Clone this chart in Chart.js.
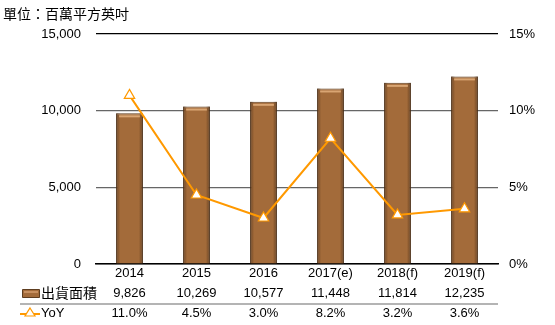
<!DOCTYPE html>
<html>
<head>
<meta charset="utf-8">
<script src="https://cdn.jsdelivr.net/npm/chart.js@4"></script>
<style>
  html, body { margin: 0; padding: 0; background: #fff; }
  #wrap { position: relative; width: 555px; height: 325px; }
</style>
</head>
<body>
<div id="wrap"><canvas id="chart" width="555" height="325"></canvas></div>
<script>
// chart data
const years = ['2014', '2015', '2016', '2017(e)', '2018(f)', '2019(f)'];
const shipments = [9826, 10269, 10577, 11448, 11814, 12235];
const yoy = [11.0, 4.5, 3.0, 8.2, 3.2, 3.6];
const unitLabel = '單位：百萬平方英吋';
const barLabel = '出貨面積';
const lineLabel = 'YoY';

const LATIN = '"Liberation Sans", Arial, sans-serif';
const CJK = '"Noto Sans CJK TC", "Noto Sans CJK SC", sans-serif';
const BAR = '#a36b3a';
const BAR_EDGE = '#5e3d1f';
const LINE = '#ff9900';

// title + data table under the plot
const tablePlugin = {
  id: 'table',
  afterDraw(chart) {
    const ctx = chart.ctx;
    const x = chart.scales.x;
    ctx.save();
    ctx.fillStyle = '#000';
    ctx.textBaseline = 'middle';
    ctx.textAlign = 'left';
    ctx.font = '14px ' + CJK;
    ctx.fillText(unitLabel, 3, 14);

    // row 1: bar legend + values
    const r1 = 293, r2 = 313;
    ctx.fillStyle = BAR;
    ctx.strokeStyle = BAR_EDGE;
    ctx.lineWidth = 1;
    ctx.beginPath();
    ctx.rect(22.5, 289.5, 17, 8);
    ctx.fill();
    ctx.stroke();
    ctx.fillStyle = '#c89060';
    ctx.fillRect(24, 291, 14, 2);

    ctx.fillStyle = '#000';
    ctx.font = '14px ' + CJK;
    ctx.fillText(barLabel, 41, r1);

    ctx.font = '13px ' + LATIN;
    ctx.textAlign = 'center';
    shipments.forEach((v, i) => {
      ctx.fillText(v.toLocaleString('en-US'), x.getPixelForValue(i), r1);
    });

    // separator
    ctx.strokeStyle = '#b4b4b4';
    ctx.lineWidth = 2;
    ctx.beginPath();
    ctx.moveTo(20, 304);
    ctx.lineTo(chart.chartArea.right, 304);
    ctx.stroke();

    // row 2: line legend + values
    ctx.strokeStyle = LINE;
    ctx.lineWidth = 2;
    ctx.beginPath();
    ctx.moveTo(20, r2 + 1);
    ctx.lineTo(40, r2 + 1);
    ctx.stroke();
    ctx.fillStyle = '#fff';
    ctx.lineWidth = 1.2;
    ctx.beginPath();
    ctx.moveTo(30, r2 - 5);
    ctx.lineTo(35, r2 + 3);
    ctx.lineTo(25, r2 + 3);
    ctx.closePath();
    ctx.fill();
    ctx.stroke();

    ctx.fillStyle = '#000';
    ctx.textAlign = 'left';
    ctx.font = '13px ' + LATIN;
    ctx.fillText(lineLabel, 41, r2);
    ctx.textAlign = 'center';
    yoy.forEach((v, i) => {
      ctx.fillText(v.toFixed(1) + '%', x.getPixelForValue(i), r2);
    });
    ctx.restore();
  }
};

// darker sides and a light strip along the top of each bar
const barShine = {
  id: 'barShine',
  afterDatasetDraw(chart, args) {
    const meta = chart.getDatasetMeta(args.index);
    if (meta.type !== 'bar') return;
    const ctx = chart.ctx;
    ctx.save();
    meta.data.forEach(b => {
      const p = b.getProps(['x', 'y', 'base', 'width'], true);
      const l = p.x - p.width / 2, r = p.x + p.width / 2;
      const g = ctx.createLinearGradient(l, 0, r, 0);
      g.addColorStop(0, 'rgba(60,35,15,0.55)');
      g.addColorStop(0.15, 'rgba(60,35,15,0)');
      g.addColorStop(0.85, 'rgba(60,35,15,0)');
      g.addColorStop(1, 'rgba(60,35,15,0.6)');
      ctx.fillStyle = g;
      ctx.fillRect(l, p.y, p.width, p.base - p.y);
      ctx.fillStyle = 'rgba(230,180,130,0.8)';
      ctx.fillRect(l + 3, p.y + 2, p.width - 6, 2);
    });
    ctx.restore();
  }
};

new Chart(document.getElementById('chart'), {
  data: {
    labels: years,
    datasets: [
      {
        type: 'line',
        label: lineLabel,
        data: yoy,
        yAxisID: 'y1',
        borderColor: LINE,
        borderWidth: 2,
        tension: 0,
        pointStyle: 'triangle',
        pointRadius: 6,
        pointBackgroundColor: '#fff',
        pointBorderColor: LINE,
        pointBorderWidth: 1.2,
        order: 0
      },
      {
        type: 'bar',
        label: barLabel,
        data: shipments,
        yAxisID: 'y',
        backgroundColor: BAR,
        borderColor: BAR_EDGE,
        borderWidth: 1,
        categoryPercentage: 1,
        barPercentage: 0.4,
        order: 1
      }
    ]
  },
  options: {
    responsive: false,
    animation: false,
    layout: { padding: { top: 34, left: 0, right: 0, bottom: 0 } },
    plugins: {
      legend: { display: false },
      tooltip: { enabled: false }
    },
    scales: {
      x: {
        grid: { display: false, drawTicks: false },
        border: { color: '#000', width: 1.5 },
        ticks: { color: '#000', font: { size: 13, family: LATIN }, padding: 2, maxRotation: 0 },
        afterFit: s => { s.height = 61; }
      },
      y: {
        position: 'left',
        min: 0,
        max: 15000,
        ticks: {
          stepSize: 5000,
          padding: 15,
          color: '#000',
          font: { size: 13, family: LATIN },
          callback: v => v.toLocaleString('en-US')
        },
        grid: {
          drawTicks: false,
          color: ctx => ctx.tick && ctx.tick.value === 15000 ? '#000' : '#666',
          lineWidth: 1.2
        },
        border: { display: false },
        afterFit: s => { s.width = 96; }
      },
      y1: {
        position: 'right',
        min: 0,
        max: 15,
        ticks: {
          stepSize: 5,
          padding: 11,
          color: '#000',
          font: { size: 13, family: LATIN },
          callback: v => v + '%'
        },
        grid: { display: false, drawTicks: false },
        border: { display: false },
        afterFit: s => { s.width = 57; }
      }
    }
  },
  plugins: [barShine, tablePlugin]
});
</script>
</body>
</html>
